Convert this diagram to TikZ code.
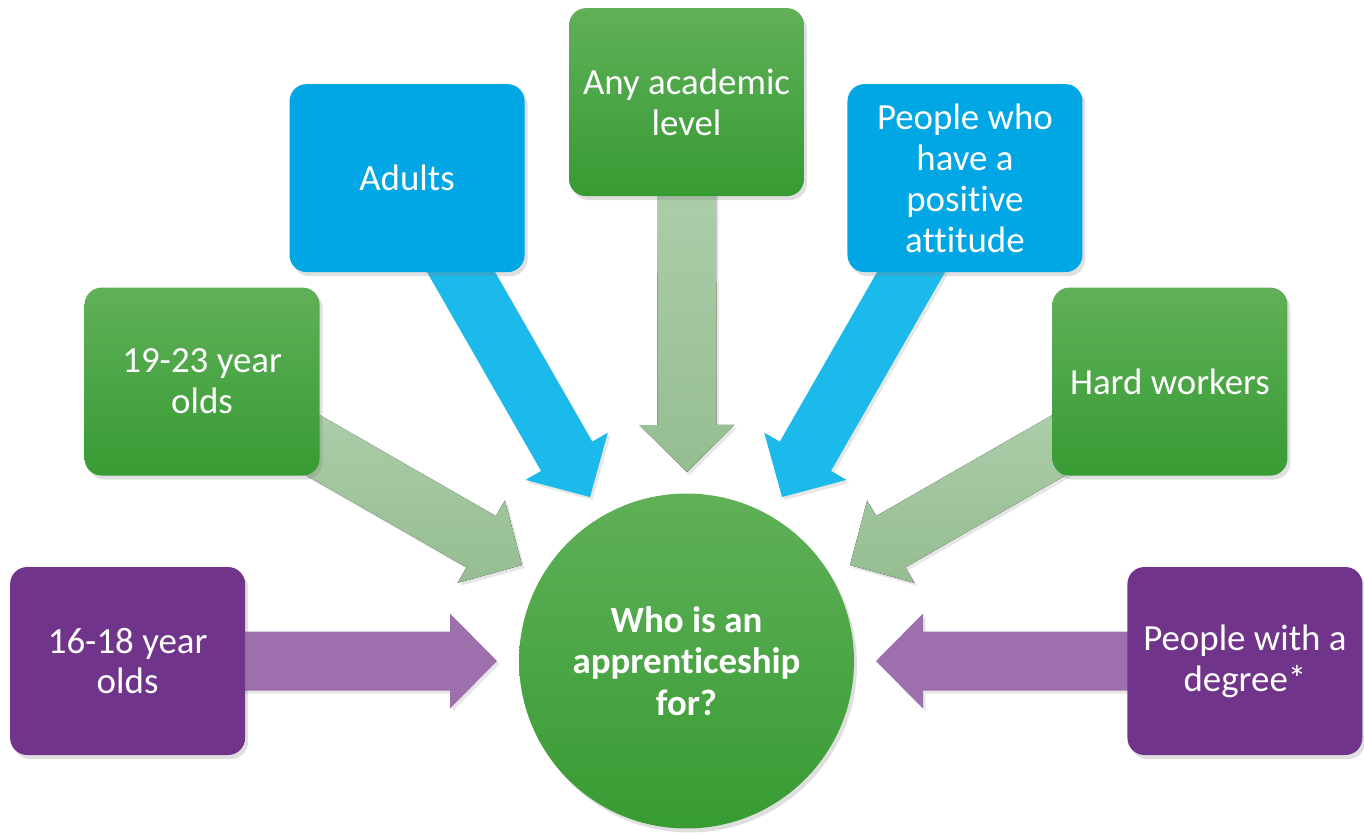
\documentclass[tikz,border=0pt]{standalone}
\usepackage{fontspec}
\setmainfont{Carlito}[Ligatures={NoCommon}]
\usetikzlibrary{calc, positioning, shadows, backgrounds}
\definecolor{grtop}{RGB}{96,176,88}
\definecolor{grbot}{RGB}{55,155,51}
\definecolor{arrgrtop}{RGB}{178,210,175}
\definecolor{arrgrbot}{RGB}{150,189,146}
\definecolor{bluebox}{RGB}{0,167,228}
\definecolor{bluearr}{RGB}{28,185,235}
\definecolor{purplebox}{RGB}{112,52,138}
\definecolor{purplearr}{RGB}{157,111,173}
\tikzset{
    boxnode/.style = {rectangle, rounded corners=0.34cm, minimum width=4.7cm, minimum height=3.76cm,
      inner sep=0em, text=white, align=center, node distance=0em,
      font=\fontsize{21}{23.3}\selectfont,
      drop shadow={opacity=0.25, shadow xshift=0.06cm, shadow yshift=-0.08cm}},
    greennode/.style = {boxnode, top color=grtop, bottom color=grbot},
    bluenode/.style = {boxnode, fill=bluebox},
    purplenode/.style = {boxnode, fill=purplebox},
    circlenode/.style = {circle, minimum size=6.7cm, inner sep=0em, text=white, align=center,
      top color=grtop, bottom color=grbot, font=\bfseries\fontsize{21}{23.8}\selectfont,
      drop shadow={opacity=0.25, shadow xshift=0.06cm, shadow yshift=-0.08cm}},
    greenarrow/.style = {top color=arrgrtop, bottom color=arrgrbot,
      drop shadow={opacity=0.2, shadow xshift=0.05cm, shadow yshift=-0.06cm}},
    bluearrow/.style = {fill=bluearr, drop shadow={opacity=0.2, shadow xshift=0.05cm, shadow yshift=-0.06cm}},
    purplearrow/.style = {fill=purplearr, drop shadow={opacity=0.2, shadow xshift=0.05cm, shadow yshift=-0.06cm}}
}
% block arrow from a box to a tip coordinate
\newcommand{\blockarrow}[3]{%
  \coordinate (ab) at ($(#2)!0.94cm!(#1)$);
  \fill[#3] ($(#1)!0.59cm!90:(#2)$) -- ($(ab)!0.59cm!-90:(#1)$) -- ($(ab)!0.95cm!-90:(#1)$)
    -- (#2) -- ($(ab)!0.95cm!90:(#1)$) -- ($(ab)!0.59cm!90:(#1)$) -- ($(#1)!0.59cm!-90:(#2)$) -- cycle;
}
\begin{document}
\begin{tikzpicture}[x=0.02cm, y=-0.02cm]
\useasboundingbox (0,0) rectangle (1364,833);

\node[circlenode, name=who] at (686.5,661) {Who is an\\apprenticeship\\for?};

\node[purplenode, name=teen, left of = who, xshift=-11.18cm] {16-18 year\\olds};
\node[purplenode, name=degree, right of = who, xshift=11.17cm] {People with a\\degree*};
\node[greennode, name=young, left of = who, xshift=-9.69cm, yshift=5.59cm] {19-23 year\\olds};
\node[greennode, name=workers, right of = who, xshift=9.67cm, yshift=5.59cm] {Hard workers};
\node[bluenode, name=adults, left of = who, xshift=-5.59cm, yshift=9.66cm] {Adults};
\node[bluenode, name=attitude, right of = who, xshift=5.57cm, yshift=9.66cm] {People who\\have a\\positive\\attitude};
\node[greennode, name=academic, above of = who, yshift=11.18cm] {Any academic\\level};

\coordinate (teentip) at (497,661);
\coordinate (degreetip) at (876,661);
\coordinate (youngtip) at (522,565);
\coordinate (workerstip) at (850,565);
\coordinate (adultstip) at (590,497);
\coordinate (attitudetip) at (782,497);
\coordinate (academictip) at (687,472);

\begin{pgfonlayer}{background}
\blockarrow{teen}{teentip}{purplearrow}
\blockarrow{degree}{degreetip}{purplearrow}
\blockarrow{young}{youngtip}{greenarrow}
\blockarrow{workers}{workerstip}{greenarrow}
\blockarrow{adults}{adultstip}{bluearrow}
\blockarrow{attitude}{attitudetip}{bluearrow}
\blockarrow{academic}{academictip}{greenarrow}
\end{pgfonlayer}
\end{tikzpicture}
\end{document}
